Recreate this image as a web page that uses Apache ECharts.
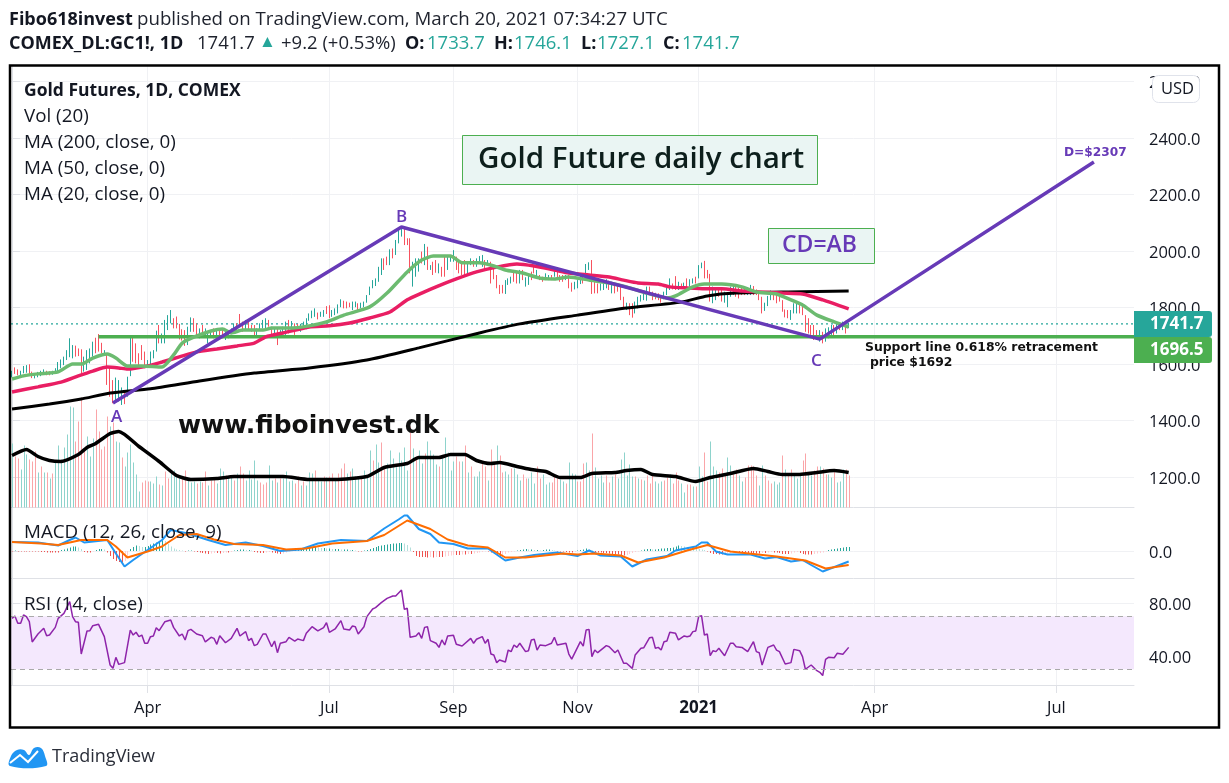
<!DOCTYPE html>
<html><head><meta charset="utf-8">
<style>html,body{margin:0;padding:0;background:#fff}#c{width:1229px;height:783px}</style>
<script src="https://cdn.jsdelivr.net/npm/echarts@6/dist/echarts.min.js"></script>
</head><body><div id="c"></div>
<script>
// Bar index is the x unit. One high, one low and one direction per trading day.
const highs=[1576,1588,1581,1576,1593,1596,1599,1573,1567,1572,
1576,1581,1576,1574,1576,1585,1607,1616,1626,1649,
1691,1667,1665,1655,1652,1626,1649,1655,1679,1693,
1706,1675,1649,1632,1593,1543,1552,1543,1517,1508,
1555,1697,1697,1673,1638,1667,1644,1614,1644,1649,
1718,1738,1708,1756,1773,1791,1762,1768,1742,1723,
1720,1732,1765,1762,1744,1726,1738,1726,1708,1720,
1726,1720,1726,1726,1720,1714,1726,1744,1744,1777,
1750,1756,1750,1738,1738,1726,1744,1756,1762,1756,
1732,1726,1726,1720,1732,1750,1756,1752,1744,1742,
1742,1750,1762,1779,1789,1797,1782,1785,1791,1805,
1808,1791,1797,1811,1829,1824,1821,1817,1821,1821,
1815,1817,1821,1844,1874,1897,1903,1944,1974,1974,
1980,2006,2009,2039,2074,2086,2086,2045,2045,1962,
1974,1974,1998,2025,2015,1950,1962,1968,1956,1944,
1986,1986,1986,2003,1980,1962,1956,1968,1962,1974,
1968,1974,1982,1986,1968,1968,1962,1939,1915,1880,
1880,1897,1903,1909,1927,1927,1933,1933,1907,1915,
1927,1944,1933,1915,1909,1921,1915,1915,1935,1933,
1915,1915,1915,1915,1888,1891,1897,1915,1921,1954,
1960,1968,1891,1885,1885,1897,1900,1895,1891,1880,
1880,1876,1838,1817,1815,1815,1821,1838,1844,1856,
1874,1874,1856,1852,1850,1844,1856,1871,1903,1885,
1911,1891,1885,1888,1903,1900,1903,1909,1950,1959,
1965,1933,1919,1874,1864,1864,1862,1856,1850,1874,
1876,1874,1871,1871,1868,1871,1880,1876,1864,1856,
1838,1817,1841,1860,1856,1856,1844,1826,1793,1791,
1791,1815,1821,1809,1815,1773,1762,1738,1738,1720,
1720,1714,1726,1730,1738,1738,1750,1738,1750,1753,1746];
const lows=[1553,1565,1560,1557,1567,1569,1565,1550,1549,1553,
1557,1561,1560,1560,1562,1567,1575,1585,1596,1614,
1624,1620,1626,1628,1567,1573,1579,1602,1626,1638,
1644,1638,1632,1526,1484,1461,1472,1467,1455,1458,
1484,1557,1608,1602,1596,1614,1585,1590,1590,1620,
1644,1673,1673,1673,1720,1744,1726,1726,1687,1683,
1664,1667,1714,1714,1703,1691,1708,1697,1673,1697,
1691,1691,1697,1691,1685,1691,1708,1714,1714,1732,
1714,1720,1720,1714,1694,1697,1720,1726,1726,1732,
1703,1703,1667,1697,1708,1703,1708,1714,1703,1720,
1714,1726,1723,1753,1762,1767,1758,1767,1767,1777,
1762,1767,1773,1779,1801,1797,1797,1801,1791,1801,
1791,1797,1801,1817,1844,1868,1876,1891,1915,1933,
1950,1950,1974,1986,2027,2051,2021,2021,1921,1874,
1909,1927,1956,1950,1933,1933,1915,1923,1921,1909,
1909,1933,1962,1962,1933,1921,1915,1909,1915,1950,
1944,1944,1956,1944,1933,1950,1885,1900,1868,1848,
1850,1848,1880,1885,1891,1885,1885,1897,1874,1880,
1897,1921,1909,1897,1891,1897,1897,1897,1909,1903,
1891,1891,1897,1868,1856,1864,1868,1883,1885,1903,
1933,1848,1850,1850,1860,1862,1868,1862,1850,1850,
1856,1826,1793,1791,1773,1764,1779,1797,1821,1826,
1824,1844,1826,1829,1826,1817,1829,1844,1862,1864,
1862,1862,1868,1868,1871,1874,1885,1885,1903,1939,
1903,1903,1821,1815,1826,1838,1821,1817,1801,1838,
1844,1838,1832,1844,1844,1844,1844,1844,1844,1826,
1779,1788,1805,1826,1826,1815,1821,1785,1765,1762,
1756,1779,1779,1779,1773,1714,1708,1703,1685,1685,
1679,1673,1679,1691,1703,1694,1708,1720,1720,1708,1727];
const barDirs=("grrgggrrgg"+"ggrrgggggg"+"ggrrrggggr"+"rrgrrrgggr"+"ggrrrrrggg"+"grggggrrrr"+"rggrrgrggg"+"rgrrggggrr"+"rgrrrggggr"+"rgrgggrgrr"
+"ggggggrggr"+"rggggrrrgg"+"rggggggggr"+"rgrgggrrrg"+"ggrgrgrrgr"+"rgggrrrrgg"+"rgggrgrrrr"+"rgggrrgrgg"+"rrgrrggrgr"+"rrgrrgggrg"
+"grrrgggrgr"+"rrrgrrgggg"+"grrrrrgggr"+"rgrgrggrgg"+"rrrggrrggg"+"grrrrggrrr"+"rgggrrrrrr"+"gggrrrrrrr"+"grgggrgrgr"+"g");
const volumes=[64,51,49,38,62,53,48,46,56,35,
41,35,35,29,34,47,62,48,60,73,
101,100,66,86,110,58,71,51,69,98,
76,58,61,91,81,85,66,65,50,41,
55,63,45,33,16,25,27,26,26,24,
31,23,22,36,29,34,37,31,31,29,
37,29,25,26,24,26,25,36,22,27,
30,24,39,36,32,31,32,27,34,41,
34,27,37,28,47,27,25,23,25,42,
27,29,25,29,29,36,26,27,24,31,
22,26,22,35,34,37,27,26,31,30,
31,34,27,34,39,44,34,36,39,31,
29,31,37,32,57,47,63,45,65,41,
44,57,49,41,55,47,60,37,81,59,
51,57,44,54,66,57,53,43,41,51,
70,55,37,46,51,46,46,62,35,41,
31,31,36,44,41,27,58,43,62,52,
35,36,33,39,39,33,27,33,29,29,
35,24,41,29,33,23,25,25,33,29,
28,26,24,45,34,33,26,26,44,45,
37,74,40,29,32,25,32,25,31,33,
29,48,55,32,43,31,31,29,28,27,
32,24,33,26,24,26,27,30,33,24,
35,27,24,15,23,23,21,21,41,31,
55,26,66,41,37,35,39,33,50,42,
33,38,32,26,30,42,42,41,32,22,
42,32,27,24,26,23,25,52,38,32,
38,32,29,32,47,54,33,32,37,41,
41,39,33,33,30,37,25,26,38,38,32];
const volDirs=("grrgggrrrg"+"rgrgrggggg"+"ggrrrrgggr"+"rrrrgrggrg"+"ggggg"+"rrrggg"+"rgrr"+"ggggrrgggr"+"grrgrrgggr"+"ggrgrrgggg"+"grrrggrgrg"
+"gggrrgrggg"+"rggrgrrgrr"+"rgrgggrggg"+"rggrrgggggg"+"ggrgrggrg"+"gggrgg"+"gggrrgrgrg"+"ggrrgrr"+"grrggrg"+"ggrrgggrrg"+"ggrrr"+"ggr"+"gggrrrggrg"+"gggrrgrgggg"+"ggrgrgrrr"+"gggrrgrrrgg"+"rrgrggrrg"+"ggrrrggrrgg"+"rrrrrggrrrgggrgrr"+"gggrrggrrgrrggrgggrr"+"grgggrrgrr");
const volumeAverage=[[0,52],[5,58],[9,51],[13,47],[17,46],[23,53],[26,60],[29,64],[34,74],[37,76],[44,61],[51,46],[57,32],[62,28],[71,29],[77,31],[84,31],[94,31],[103,28],[112,28],[123,31],[129,40],[137,44],[141,50],[148,50],[152,53],[157,53],[161,47],[166,44],[169,45],[175,41],[180,38],[185,36],[190,30],[197,30],[201,34],[209,35],[213,37],[218,38],[222,33],[230,31],[237,26],[242,30],[249,34],[257,39],[262,36],[267,33],[273,33],[279,35],[285,37],[290,35]];
const ma200=[[0,1441],[13,1458],[24,1476],[34,1497],[48,1512],[65,1540],[84,1568],[103,1586],[123,1614],[141,1657],[162,1710],[176,1742],[196,1773],[213,1798],[232,1819],[241,1841],[251,1851],[269,1855],[290,1858]];
const ma50=[[0,1501],[9,1519],[17,1536],[23,1558],[28,1575],[33,1589],[37,1586],[40,1582],[47,1593],[52,1607],[58,1625],[64,1643],[71,1653],[78,1664],[84,1674],[88,1696],[94,1710],[103,1731],[110,1735],[117,1745],[124,1763],[131,1784],[137,1827],[142,1851],[147,1873],[154,1901],[161,1926],[168,1943],[175,1954],[181,1947],[188,1933],[193,1922],[200,1915],[207,1908],[212,1897],[217,1887],[224,1883],[228,1873],[234,1869],[240,1866],[246,1866],[253,1858],[259,1855],[267,1851],[274,1848],[281,1827],[290,1795]];
const ma20=[[0,1547],[4,1558],[9,1565],[16,1572],[21,1600],[24,1600],[28,1621],[33,1635],[36,1621],[40,1593],[45,1593],[52,1589],[56,1632],[59,1674],[63,1695],[69,1717],[73,1724],[76,1710],[80,1720],[87,1720],[90,1727],[96,1727],[103,1735],[109,1749],[115,1773],[124,1802],[130,1851],[137,1926],[142,1968],[146,1982],[152,1982],[156,1958],[162,1958],[167,1947],[171,1933],[177,1922],[183,1904],[188,1901],[193,1908],[200,1897],[207,1887],[213,1873],[220,1851],[227,1834],[230,1841],[236,1873],[240,1883],[246,1883],[253,1873],[258,1855],[265,1848],[270,1827],[274,1809],[279,1773],[285,1749],[290,1731]];
const abcd=[[35,1462],[135,2085],[280,1688],[375,2315]];
const lastPrice=1741.7;
const supportPrice=1696.5;
const macdLine=[[0,18],[9,17],[16,11],[20,22],[22,27],[25,17],[33,22],[36,-5],[39,-31],[42,-18],[47,2],[52,22],[55,42],[61,35],[68,22],[74,12],[81,17],[87,10],[93,0],[100,3],[106,15],[114,22],[123,20],[129,45],[134,63],[136,71],[137,71],[141,44],[145,34],[148,17],[153,14],[158,5],[165,5],[171,-19],[176,-13],[181,-8],[189,-3],[196,-10],[200,1],[204,-9],[211,-11],[215,-31],[220,-17],[227,-10],[230,1],[237,9],[239,17],[241,17],[244,-1],[248,-7],[256,-7],[261,-15],[265,-12],[270,-21],[274,-18],[277,-28],[281,-41],[290,-21]];
const signalLine=[[0,18],[10,15],[16,12],[24,22],[33,22],[36,9],[40,-13],[47,-1],[52,9],[58,32],[64,34],[70,23],[77,14],[87,12],[95,3],[102,5],[111,15],[123,20],[129,32],[137,61],[145,44],[151,23],[158,11],[165,7],[171,-13],[178,-13],[191,-5],[196,-7],[202,-5],[211,-9],[217,-23],[226,-13],[234,1],[241,12],[249,-1],[265,-11],[275,-19],[282,-35],[290,-28]];
const macdHist=[-1,1,-1,-1,-1,-1,-1,-1,-1,-1,
-2,-2,-3,-3,-3,-3,-3,2,3,5,
7,9,9,7,4,-2,-3,-3,-1,2,
4,4,3,-3,-10,-16,-20,-22,-23,-20,
-12,4,8,11,10,8,8,10,13,15,
17,19,21,20,14,9,5,3,2,1,
-1,1,1,-1,-2,-3,-4,-5,-6,-5,
-4,-4,-5,-4,-3,-3,-2,1,2,3,
3,2,2,1,-2,-3,-4,-4,-3,-2,
-3,-4,-5,-6,-5,-3,-1,2,3,4,
5,6,6,7,7,8,7,6,6,5,
5,4,4,4,3,3,3,2,2,1,
-1,-1,1,2,4,6,8,10,11,12,
13,14,15,15,16,16,15,12,7,-2,
-10,-12,-12,-12,-13,-12,-13,-12,-12,-12,
-11,-10,-9,-8,-8,-8,-7,-7,-6,-6,
-5,-4,-3,-2,-1,-1,-3,-6,-10,-12,
-10,-6,-3,-2,-1,1,2,3,4,3,
3,2,2,1,2,3,3,2,1,-1,
-1,-1,-2,-3,-3,-2,1,2,3,5,
3,1,-2,-3,-3,-4,-4,-5,-6,-7,
-7,-8,-9,-8,-6,-4,-2,-1,1,3,
4,4,3,3,4,5,5,6,6,7,
9,11,10,9,8,7,6,5,4,3,
2,-1,-4,-6,-6,-7,-7,-6,-5,-4,
-3,-2,-2,-3,-3,-4,-4,-4,-5,-5,
-4,-4,-3,-2,-3,-3,-4,-6,-6,-6,
-5,-3,-2,-4,-6,-7,-7,-7,-6,-5,
-4,-3,-1,2,3,4,5,6,7,8,8];
const rsiLine=[[0,68.4],[1,70.2],[2,64.7],[3,64.7],[4,71],[5,69.7],[6,65.9],[7,50.6],[9,56.6],[11,60.9],[12,55.3],[13,55.8],[15,61.6],[16,68.4],[18,72.2],[20,81],[21,69.7],[22,65.9],[23,65.4],[24,41.5],[26,58.9],[27,59.1],[28,62.9],[30,63.9],[32,54.6],[34,33.2],[35,30.7],[36,39],[37,33.7],[39,35],[41,59.6],[42,55.8],[43,57.9],[44,54.6],[45,55.8],[46,49.6],[47,49.6],[48,54.6],[49,55.1],[50,61.4],[51,59.1],[53,65.9],[55,67.2],[56,61.6],[58,55.1],[59,56.6],[60,52.1],[61,59.1],[62,60.1],[64,56.6],[66,55.3],[67,50.6],[69,54.1],[70,53.3],[71,48.8],[72,55.3],[74,50],[76,53.3],[78,60.9],[79,55.1],[81,58.4],[82,51.6],[83,53.3],[84,47.8],[85,48.8],[87,56.6],[88,56.6],[90,47],[91,51.3],[92,42.5],[93,49.6],[95,50.8],[96,54.1],[98,51.3],[99,52.8],[101,51.6],[102,57.1],[104,62.1],[106,58.9],[108,61.4],[109,65.2],[110,57.9],[112,60.4],[114,66.7],[115,60.4],[117,59.6],[118,62.6],[119,62.1],[120,56.6],[122,62.1],[123,69.7],[125,75.5],[126,76.5],[128,80.3],[130,83.5],[132,85.3],[133,85.3],[135,89.8],[136,75.2],[137,76],[138,54.1],[140,55.1],[141,57.6],[142,53.3],[143,61.6],[144,62.1],[145,51.6],
[147,49.6],[148,46.5],[149,52.1],[150,48.3],[151,55.1],[153,55.6],[154,48.8],[156,47.5],[159,53.3],[160,49.6],[161,52.6],[163,54.6],[164,49.6],[165,52.6],[166,41.5],[167,40.8],[168,35],[169,37],[171,35.5],[172,44.5],[173,43.3],[174,48.3],[175,46.5],[176,49.6],[178,43.3],[179,44],[180,52.1],[181,52.6],[182,44.5],[183,48.3],[185,47.8],[187,49.6],[188,54.1],[189,48.3],[192,49.6],[193,41.5],[194,37.7],[197,50.8],[198,47.5],[199,59.6],[200,60.1],[201,39.5],[202,44.5],[203,42.5],[206,47.8],[207,47],[209,42.5],[210,44.5],[212,34.5],[213,34.5],[215,30.7],[216,40.8],[218,45.8],[219,46.3],[221,53.8],[222,54.1],[223,45.8],[224,46.5],[225,44.5],[226,50.8],[227,51.3],[228,57.9],[230,57.1],[231,52.1],[233,55.1],[234,54.6],[235,55.1],[236,58.4],[237,58.9],[238,69.7],[239,70.4],[240,55.8],[241,56.6],[242,40.2],[243,44],[244,43.3],[245,45.8],[247,40.2],[249,49.6],[250,49.6],[251,47],[253,46.5],[255,43.3],[257,50.8],[258,43.3],[259,42.5],[260,33.2],[262,46.5],[264,48.3],[265,44.5],[266,43.3],[268,34],[270,35],[271,45],[273,44],[274,39.5],[275,30],[277,33.2],[279,28.9],[280,27.7],[281,25.2],[282,37.5],[283,39],[285,38.7],[286,42],[288,41.3],[290,46.5]];
const timeTicks=[47,110,153,196,238,299,362];
const timeLabels=['Apr','Jul','Sep','Nov','2021','Apr','Jul'];
const priceTicks=[1200,1400,1600,1800,2000,2200,2400,2600];
const macdTicks=[0];
const rsiTicks=[40,80];
const rsiBand=[30,70];

const TEAL='#26a69a',RED='#f7525f',VT='#8ed3cc',VR='#faa5a8',GRID='#f0f1f4',SEP='#dfe1e6',PUR='#673ab7',INK='#131722';
const F='"Open Sans"';
const X0=-0.35,X1=388.9;
const axisX=(g,labels)=>({type:'value',gridIndex:g,min:X0,max:X1,
  axisLine:{show:true,onZero:false,lineStyle:{color:SEP}},
  axisTick:{show:labels,length:8,customValues:timeTicks,lineStyle:{color:SEP}},
  axisLabel:{show:labels,customValues:timeTicks,margin:15,color:INK,fontFamily:F,fontSize:16.5,
    formatter:v=>{const s=timeLabels[timeTicks.indexOf(v)];return s==='2021'?'{b|2021}':s;},
    rich:{b:{fontWeight:'bold',fontSize:17,fontFamily:F,color:INK}}},
  splitLine:{show:true,lineStyle:{color:GRID}}});
const axisY=(g,min,max,ticks,dec)=>({type:'value',gridIndex:g,position:'right',min,max,
  axisLine:{show:true,lineStyle:{color:SEP}},
  axisTick:{show:true,length:8,customValues:ticks,lineStyle:{color:SEP}},
  axisLabel:{show:true,customValues:ticks,margin:15,color:INK,fontFamily:F,fontSize:16.5,formatter:v=>'{a|'+v.toFixed(dec)+'}',
    rich:{a:{fontFamily:F,fontSize:16.5,color:INK,padding:[4,0,0,0]}}},
  splitLine:{show:true,lineStyle:{color:GRID}}});
const line=(name,data,color,width,x,y,extra)=>Object.assign({name,type:'line',data,xAxisIndex:x,yAxisIndex:y,symbol:'none',silent:true,animation:false,
  lineStyle:{color,width}},extra||{});
// A thin column from the axis zero to the value, through the axes' own scales.
const stem=(p,api)=>{const t=api.coord([api.value(0),api.value(1)]),b=api.coord([api.value(0),0]);
  return{type:'rect',shape:{x:Math.round(t[0]),y:Math.min(t[1],b[1]),width:1,height:Math.abs(t[1]-b[1])},style:{fill:api.visual('color')}};};
function txt(x,y,text,size,weight,fill,fam){return{type:'text',z:55,x,y:y+1.5,style:{text,fill,font:weight+' '+size+'px '+(fam?'"'+fam+'"':F),verticalAlign:'middle',align:'left'}};}
function box(x,y,w,h,fill,stroke){return{type:'rect',z:20,shape:{x,y,width:w,height:h},style:{fill,stroke,lineWidth:1}};}

const option={animation:false,
 grid:[{left:11,width:1123,top:66,height:441.5},{left:11,width:1123,top:507.5,height:70.5},{left:11,width:1123,top:578,height:107}],
 xAxis:[axisX(0,false),axisX(1,false),axisX(2,true)],
 yAxis:[axisY(0,1092,2654.9,priceTicks,1),
  {type:'value',gridIndex:0,min:0,max:441.5,show:false,splitLine:{show:false}},
  axisY(1,-54,87,macdTicks,1),
  axisY(2,18.11,98.87,rsiTicks,2)],
 series:[
  {name:'Volume',type:'custom',xAxisIndex:0,yAxisIndex:1,silent:true,z:1,renderItem:stem,encode:{x:0,y:1},
   data:volumes.map((v,i)=>({value:[i,v],itemStyle:{color:volDirs[i]==='r'?VR:VT}}))},
  line('Vol MA',volumeAverage,'#000',3.5,0,1,{z:2,smooth:0.2}),
  line('Last price',[[X0,lastPrice],[X1,lastPrice]],TEAL,1.2,0,0,{z:3,lineStyle:{color:TEAL,width:1.2,type:[2,3]}}),
  {name:'Gold Futures',type:'candlestick',xAxisIndex:0,yAxisIndex:0,barWidth:1,silent:true,z:3,
   itemStyle:{color:TEAL,color0:RED,borderColor:TEAL,borderColor0:RED,borderWidth:1},
   data:highs.map((h,i)=>barDirs[i]==='r'?[i,h,lows[i],lows[i],h]:[i,lows[i],h,lows[i],h])},
  line('Support',[[30,supportPrice],[X1,supportPrice]],'#4caf50',3.5,0,0,{z:4}),
  line('MA 200',ma200,'#000',3,0,0,{z:5,smooth:0.2}),
  line('MA 50',ma50,'#e91e63',3.5,0,0,{z:6,smooth:0.2}),
  line('MA 20',ma20,'#6cbb70',3.5,0,0,{z:7,smooth:0.2}),
  line('ABCD',abcd,PUR,3.5,0,0,{z:8}),
  {name:'Histogram',type:'custom',xAxisIndex:1,yAxisIndex:2,silent:true,z:2,renderItem:stem,encode:{x:0,y:1},
   data:macdHist.map((v,i)=>{const p=i?macdHist[i-1]:0;const c=v>=0?(v>=p?TEAL:'#b2dfdb'):(v<=p?'#ef5350':'#ffcdd2');return{value:[i,v],itemStyle:{color:c}};})},
  line('MACD',macdLine,'#2196f3',2,1,2,{z:3}),
  line('Signal',signalLine,'#ff6d00',2,1,2,{z:4}),
  line('RSI',rsiLine,'#8e24aa',1.5,2,3,{z:4,
   markArea:{silent:true,itemStyle:{color:'#f4e8fd',opacity:1},data:[[{yAxis:rsiBand[0]},{yAxis:rsiBand[1]}]]},
   markLine:{silent:true,symbol:'none',label:{show:false},lineStyle:{color:'#aaaaaa',type:[5,4],width:1},data:rsiBand.map(v=>({yAxis:v}))}})
 ],
 graphic:{elements:[
  txt(9,18,'Fibo618invest',18,'bold',INK),txt(137,18,'published on TradingView.com, March 20, 2021 07:34:27 UTC',18.7,'normal','#1e222d'),
  txt(9,42,'COMEX_DL:GC1!, 1D',18,'bold',INK),txt(197,42,'1741.7',18.5,'normal','#1e222d'),txt(259,41,'▲',17,'normal',TEAL),
  txt(281,42,'+9.2 (+0.53%)',18.5,'normal','#1e222d'),
  txt(405,42,'O:',18,'bold',INK),txt(427,42,'1733.7',18.5,'normal',TEAL),
  txt(494,42,'H:',18,'bold',INK),txt(514,42,'1746.1',18.5,'normal',TEAL),
  txt(581,42,'L:',18,'bold',INK),txt(597,42,'1727.1',18.5,'normal',TEAL),
  txt(663,42,'C:',18,'bold',INK),txt(682,42,'1741.7',18.5,'normal',TEAL),
  txt(24,90,'Gold Futures, 1D, COMEX',17.5,'bold',INK),txt(24,115,'Vol (20)',18.8,'normal',INK),
  txt(24,141,'MA (200, close, 0)',18.8,'normal',INK),txt(24,167,'MA (50, close, 0)',18.8,'normal',INK),txt(24,193,'MA (20, close, 0)',18.8,'normal',INK),
  txt(24,531,'MACD (12, 26, close, 9)',18.8,'normal',INK),txt(24,603,'RSI (14, close)',18.8,'normal',INK),
  box(462.5,135.5,355,49,'#eaf5f3','#4caf50'),txt(478,158,'Gold Future daily chart',29.5,'600','#0d1f1c'),
  box(768.5,228.5,106,35,'#eaf5f3','#4caf50'),txt(782,244,'CD=AB',23,'600',PUR),
  txt(178,425,'www.fiboinvest.dk',25,'bold','#111','DejaVu Sans'),
  txt(865,346,'Support line 0.618% retracement',12.4,'bold','#111','DejaVu Sans'),txt(870,361,'price $1692',12.4,'bold','#111','DejaVu Sans'),
  txt(1064,151,'D=$2307',12.2,'bold',PUR,'DejaVu Sans'),
  txt(111,416,'A',17,'600',PUR),txt(396,216,'B',17,'600',PUR),txt(811,360,'C',17,'600',PUR),
  {type:'rect',z:50,shape:{x:1134,y:311,width:78,height:26,r:[0,3,3,0]},style:{fill:TEAL}},
  {type:'rect',z:50,shape:{x:1134,y:337,width:78,height:26,r:[0,3,3,0]},style:{fill:'#4caf50'}},
  txt(1150,323,'1741.7',17,'bold','#fff'),txt(1150,349,'1696.5',17,'bold','#fff'),
  {type:'rect',z:50,shape:{x:1152.5,y:75.5,width:47,height:27,r:6},style:{fill:'#fff',stroke:'#e0e3eb',lineWidth:1}},
  txt(1161,88,'USD',16.5,'normal',INK),
  {type:'rect',z:60,shape:{x:10,y:65.5,width:1209,height:662},style:{fill:'none',stroke:'#000',lineWidth:2.5}},
  {type:'polygon',z:50,shape:{points:[[10,766],[11,756],[17,750],[24,750],[29,755],[34,748],[41,748],[45,756],[46,766]],smooth:0.4},style:{fill:'#2196f3'}},
  {type:'polyline',z:51,shape:{points:[[10,763],[20,755],[28,762],[38,751]]},style:{stroke:'#fff',lineWidth:2,fill:'none'}},
  txt(52,755,'TradingView',18,'normal','#2a2e39')
 ]}
};
const chart=echarts.init(document.getElementById('c'),null,{renderer:'canvas'});
chart.setOption(option);
</script></body></html>
